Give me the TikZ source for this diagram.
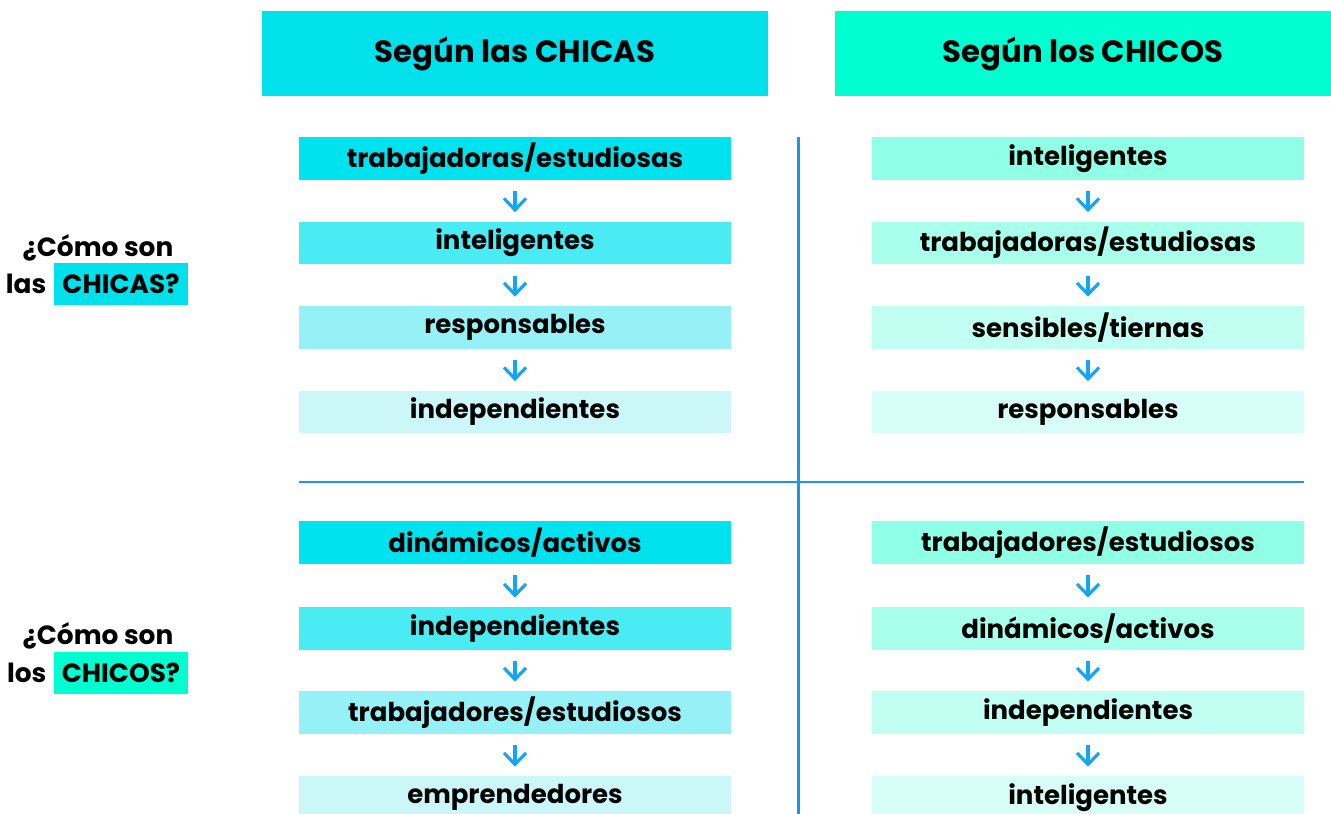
\documentclass[tikz,border=0pt]{standalone}
\usepackage{fontspec}
\setmainfont{Poppins}
\usetikzlibrary{positioning}
\usetikzlibrary{arrows.meta}

\definecolor{hdgirls}{RGB}{0,225,236}
\definecolor{hdboys}{RGB}{0,255,208}
\definecolor{gA}{RGB}{0,227,238}
\definecolor{gB}{RGB}{74,236,244}
\definecolor{gC}{RGB}{150,241,247}
\definecolor{gD}{RGB}{204,247,248}
\definecolor{bA}{RGB}{143,255,230}
\definecolor{bB}{RGB}{168,255,236}
\definecolor{bC}{RGB}{192,255,242}
\definecolor{bD}{RGB}{216,255,247}
\definecolor{divider}{RGB}{24,150,240}
\definecolor{arrowblue}{RGB}{20,165,245}

\begin{document}
\begin{tikzpicture}[x=0.02cm, y=-0.02cm,
		font=\bfseries\fontsize{14.8}{17}\selectfont,
		box/.style={minimum width=8.64cm, minimum height=0.86cm, inner sep=0pt},
		header/.style={minimum width=#1, minimum height=1.7cm, inner sep=0pt, font=\bfseries\fontsize{17.5}{20}\selectfont},
		flow/.style={arrowblue, line width=1.8pt, -{Straight Barb[length=6.5pt, width=12.5pt, line width=1.8pt]}, shorten <=0.22cm, shorten >=0.18cm},
		question/.style={font=\bfseries\fontsize{15}{18}\selectfont, inner sep=0pt},
		hilite/.style={question, fill=hdgirls, minimum height=0.84cm, minimum width=2.68cm}]
	\clip (0,0) rectangle (1331,814);

	% column headers
	\node (hgirls) [header=10.12cm, fill=hdgirls] at (515, 53.5) {Según las CHICAS};
	\node (hboys) [header=9.92cm, fill=hdboys] at (1083, 53.5) {Según los CHICOS};

	% row questions
	\node (q1a) [question] at (98, 248) {¿Cómo son};
	\node (q1b) [hilite] at (121, 284) {CHICAS?};
	\node (q1c) [question, left=4pt of q1b] {las};
	\node (q2a) [question] at (98, 636) {¿Cómo son};
	\node (q2b) [hilite, fill=hdboys] at (121, 673) {CHICOS?};
	\node (q2c) [question, left=4pt of q2b] {los};

	% girls / girls
	\node (ga1) [box, fill=gA] at (515, 158.5) {trabajadoras/estudiosas};
	\node (ga2) [box, fill=gB] at (515, 243) {inteligentes};
	\node (ga3) [box, fill=gC] at (515, 327.5) {responsables};
	\node (ga4) [box, fill=gD] at (515, 412) {independientes};

	% boys / girls
	\node (ba1) [box, fill=bA] at (1088, 158.5) {inteligentes};
	\node (ba2) [box, fill=bB] at (1088, 243) {trabajadoras/estudiosas};
	\node (ba3) [box, fill=bC] at (1088, 327.5) {sensibles/tiernas};
	\node (ba4) [box, fill=bD] at (1088, 412) {responsables};

	% girls / boys
	\node (gb1) [box, fill=gA] at (515, 542.5) {dinámicos/activos};
	\node (gb2) [box, fill=gB] at (515, 628.5) {independientes};
	\node (gb3) [box, fill=gC] at (515, 712.5) {trabajadores/estudiosos};
	\node (gb4) [box, fill=gD] at (515, 797.5) {emprendedores};

	% boys / boys
	\node (bb1) [box, fill=bA] at (1088, 542.5) {trabajadores/estudiosos};
	\node (bb2) [box, fill=bB] at (1088, 628.5) {dinámicos/activos};
	\node (bb3) [box, fill=bC] at (1088, 712.5) {independientes};
	\node (bb4) [box, fill=bD] at (1088, 797.5) {inteligentes};

	\foreach \col in {ga, ba, gb, bb} {
		\draw [flow] (\col1.south) -- (\col2.north);
		\draw [flow] (\col2.south) -- (\col3.north);
		\draw [flow] (\col3.south) -- (\col4.north);
	}

	% dividers
	\coordinate (vtop) at (798, 137);
	\coordinate (vbot) at (798, 814);
	\coordinate (hleft) at (299, 482);
	\coordinate (hright) at (1304, 482);
	\draw [divider, line width=1.7pt] (vtop) -- (vbot);
	\draw [divider, line width=1.7pt] (hleft) -- (hright);
\end{tikzpicture}
\end{document}
